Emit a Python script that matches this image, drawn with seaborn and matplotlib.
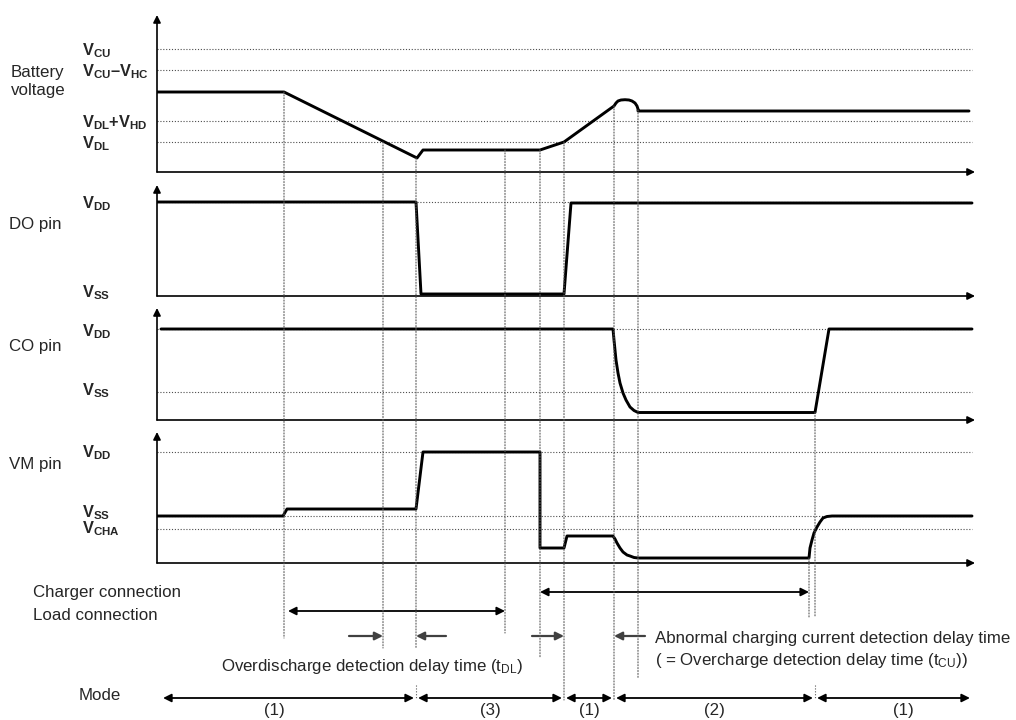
import matplotlib
matplotlib.use("Agg")
import matplotlib.pyplot as plt
from matplotlib.patches import ConnectionPatch
import seaborn as sns

# time axis in arbitrary units (0 = left axis of the diagram)
t_end = 815

# battery voltage waveform
bat_t = [0, 127, 260, 266, 383, 407, 457, 459, 461, 464, 468, 472, 475, 478, 480, 481, 481, 812]
bat_v = [80, 80, 14, 22, 22, 30, 66, 69, 71, 72, 72.3, 72, 71, 69, 66, 63, 61, 61]
bat_level_vals = [123, 102, 51, 30]
bat_level_names = [r"$\mathbf{V_{CU}}$",
                   r"$\mathbf{V_{CU}}$–$\mathbf{V_{HC}}$",
                   r"$\mathbf{V_{DL}}$+$\mathbf{V_{HD}}$",
                   r"$\mathbf{V_{DL}}$"]

# DO pin
do_t = [0, 259, 264, 407, 414, t_end]
do_v = [94, 94, 2, 2, 93, 93]
do_vdd = 94

# CO pin
co_t = [4, 456, 457, 458, 459, 461, 463, 466, 469, 473, 477, 481, 658, 672, t_end]
co_v = [91, 91, 80, 70, 60, 47, 37, 27, 20, 13, 9.5, 7.5, 7.5, 91, 91]
co_vdd, co_vss = 91, 28

# VM pin
vm_t = [0, 126, 130, 259, 266, 383, 383, 407, 410, 456, 458, 460, 463, 466, 470,
        473, 477, 481, 652, 653, 655, 657, 660, 663, 666, 670, 675, t_end]
vm_v = [47, 47, 54, 54, 111, 111, 15, 15, 27, 27, 24, 20, 15, 11, 8,
        7, 5.5, 5, 5, 15, 23, 30, 36, 41, 45, 46.5, 47, 47]
vm_vdd, vm_vss, vm_vcha = 111, 47, 34

# event markers (dotted guides): time, panel, level where guide starts
guide_t = [127, 226, 259, 348, 383, 407, 457, 481, 652, 658]
guide_panel = ["bat", "bat", "bat", "bat", "bat", "bat", "bat", "bat", "vm", "co"]
guide_v = [80, 30, 14, 22, 22, 30, 66, 62, 5, 7.5]

# connection spans and modes
charger_span = (383, 652)
load_span = (131, 348)
mode_bounds = [4, 259, 407, 457, 658, t_end]
mode_names = ["(1)", "(3)", "(1)", "(2)", "(1)"]
mode_label_t = [117, 333, 432, 557, 746]

sns.set_style("white")
plt.rcParams["font.family"] = ["Liberation Sans", "DejaVu Sans"]
plt.rcParams["mathtext.fontset"] = "custom"
plt.rcParams["mathtext.rm"] = "Liberation Sans"
plt.rcParams["mathtext.it"] = "Liberation Sans:italic"
plt.rcParams["mathtext.bf"] = "Liberation Sans:bold"

W, H = 1016, 720
fig = plt.figure(figsize=(W / 100, H / 100), dpi=100)
X0, X1 = 157, 975


def px_axes(top, bottom):
    return fig.add_axes([X0 / W, 1 - bottom / H, (X1 - X0) / W, (bottom - top) / H])


DOT = (0, (1, 1.6))
FS = 12.2
VFS = 11.8


def setup_panel(ax, top_val):
    ax.set_xlim(0, X1 - X0)
    ax.set_ylim(0, top_val)
    ax.set_xticks([])
    ax.set_yticks([])
    for s in ax.spines.values():
        s.set_visible(False)
    ax.patch.set_alpha(0)
    arrow = dict(arrowstyle="-|>", color="black", lw=1.2, mutation_scale=11,
                 shrinkA=0, shrinkB=0)
    ax.annotate("", xy=(1, 0), xytext=(0, 0), xycoords="axes fraction",
                arrowprops=arrow, annotation_clip=False)
    ax.annotate("", xy=(0, 1), xytext=(0, 0), xycoords="axes fraction",
                arrowprops=arrow, annotation_clip=False)


def wave(ax, t, v):
    sns.lineplot(x=t, y=v, ax=ax, color="black", lw=2.1, sort=False,
                 estimator=None, zorder=3)


def vlabel(ax, y, s):
    ax.text(-75, y, s, fontsize=VFS, fontweight="bold", va="center", ha="left")


def level(ax, y):
    ax.hlines(y, 0, t_end, colors="0.3", lw=0.8, linestyles=DOT, zorder=1)


# battery voltage
ax_bat = px_axes(15, 172)
setup_panel(ax_bat, 157)
for val, name in zip(bat_level_vals, bat_level_names):
    level(ax_bat, val)
    vlabel(ax_bat, val - 2, name)
wave(ax_bat, bat_t, bat_v)
ax_bat.text(-146, 100, "Battery", fontsize=FS, va="center")
ax_bat.text(-146, 82, "voltage", fontsize=FS, va="center")

# DO pin
ax_do = px_axes(185, 296)
setup_panel(ax_do, 111)
level(ax_do, do_vdd)
wave(ax_do, do_t, do_v)
vlabel(ax_do, do_vdd - 2, r"$\mathbf{V_{DD}}$")
vlabel(ax_do, 3, r"$\mathbf{V_{SS}}$")
ax_do.text(-148, 71, "DO pin", fontsize=FS, va="center")

# CO pin
ax_co = px_axes(308, 420)
setup_panel(ax_co, 112)
level(ax_co, co_vdd)
level(ax_co, co_vss)
wave(ax_co, co_t, co_v)
vlabel(ax_co, co_vdd - 3, r"$\mathbf{V_{DD}}$")
vlabel(ax_co, co_vss + 1, r"$\mathbf{V_{SS}}$")
ax_co.text(-148, 74, "CO pin", fontsize=FS, va="center")

# VM pin
ax_vm = px_axes(432, 563)
setup_panel(ax_vm, 131)
for val in (vm_vdd, vm_vss, vm_vcha):
    level(ax_vm, val)
wave(ax_vm, vm_t, vm_v)
vlabel(ax_vm, vm_vdd - 1, r"$\mathbf{V_{DD}}$")
vlabel(ax_vm, vm_vss + 3, r"$\mathbf{V_{SS}}$")
vlabel(ax_vm, vm_vcha, r"$\mathbf{V_{CHA}}$")
ax_vm.text(-148, 98, "VM pin", fontsize=FS, va="center")

# overlay for guides and bottom annotations (y in picture rows)
ax_ov = fig.add_axes([X0 / W, 0, (X1 - X0) / W, 1])
ax_ov.set_xlim(0, X1 - X0)
ax_ov.set_ylim(H, 0)
ax_ov.axis("off")

panels = {"bat": ax_bat, "do": ax_do, "co": ax_co, "vm": ax_vm}
guide_end = [638, 648, 648, 633, 657, 700, 700, 678, 617, 617]
for t, p, v, y_end in zip(guide_t, guide_panel, guide_v, guide_end):
    con = ConnectionPatch(xyA=(t, v), coordsA=panels[p].transData,
                          xyB=(t, y_end), coordsB=ax_ov.transData,
                          color="0.35", lw=0.8, ls=DOT, zorder=2)
    fig.add_artist(con)
# short dividers above the mode arrows
ax_ov.vlines([259, 658], 685, 699, colors="0.35", lw=0.8, linestyles=DOT)


def span(t0, t1, y, color="black", style="<|-|>", lw=1.3, shrink=0):
    ax_ov.annotate("", xy=(t1, y), xytext=(t0, y),
                   arrowprops=dict(arrowstyle=style, color=color, lw=lw,
                                   mutation_scale=12, shrinkA=shrink, shrinkB=shrink))


ax_ov.text(-124, 592, "Charger connection", fontsize=FS, va="center")
ax_ov.text(-124, 615, "Load connection", fontsize=FS, va="center")
span(*charger_span, 592)
span(*load_span, 611)

# delay time markers
span(192, 226, 636, color="0.25", style="-|>", lw=1.6)
span(289, 259, 636, color="0.25", style="-|>", lw=1.6)
span(375, 407, 636, color="0.25", style="-|>", lw=1.6)
span(488, 457, 636, color="0.25", style="-|>", lw=1.6)
ax_ov.text(64, 667, r"Overdischarge detection delay time (t$_{\mathrm{DL}}$)",
           fontsize=FS, va="center")
ax_ov.text(498, 638, "Abnormal charging current detection delay time",
           fontsize=FS, va="center")
ax_ov.text(498, 660, r"( = Overcharge detection delay time (t$_{\mathrm{CU}}$))",
           fontsize=FS, va="center")

# modes
ax_ov.text(-78, 696, "Mode", fontsize=FS, va="center")
for a, b in zip(mode_bounds[:-1], mode_bounds[1:]):
    span(a, b, 698, shrink=1.5)
for t, name in zip(mode_label_t, mode_names):
    ax_ov.text(t, 711, name, fontsize=FS, ha="center", va="center")

fig.savefig("out.png", dpi=100)
